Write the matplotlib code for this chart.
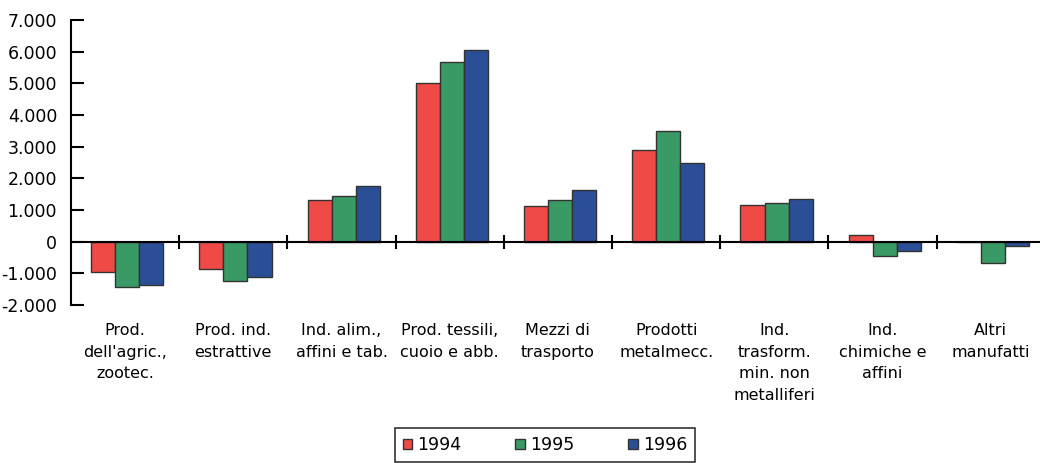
import matplotlib.pyplot as plt
import numpy as np

plt.rcParams['font.family'] = 'DejaVu Sans'

categories = ["Prod.\ndell'agric.,\nzootec.", "Prod. ind.\nestrattive",
              "Ind. alim.,\naffini e tab.", "Prod. tessili,\ncuoio e abb.",
              "Mezzi di\ntrasporto", "Prodotti\nmetalmecc.",
              "Ind.\ntrasform.\nmin. non\nmetalliferi",
              "Ind.\nchimiche e\naffini", "Altri\nmanufatti"]
years = ["1994", "1995", "1996"]
v1994 = [-950, -850, 1320, 5000, 1140, 2880, 1170, 220, 0]
v1995 = [-1420, -1250, 1450, 5670, 1320, 3510, 1230, -460, -660]
v1996 = [-1360, -1110, 1770, 6060, 1640, 2490, 1360, -280, -150]
colors = ["#f04a46", "#3a9a66", "#2a4f96"]

yticks = [-2000, -1000, 0, 1000, 2000, 3000, 4000, 5000, 6000, 7000]
ytick_labels = ["-2.000", "-1.000", "0", "1.000", "2.000", "3.000",
                "4.000", "5.000", "6.000", "7.000"]

fig = plt.figure(figsize=(10.4, 4.63), dpi=100)
ax = fig.add_axes([71 / 1040, 1 - 305 / 463, 1 - 71 / 1040, 285 / 463])

x = np.arange(len(categories))
w = 0.222
for i, (vals, c, lab) in enumerate(zip([v1994, v1995, v1996], colors, years)):
    ax.bar(x + (i - 1) * w + 0.02, vals, width=w, color=c,
           edgecolor="#333333", linewidth=1, label=lab, zorder=2)

ax.set_xlim(-0.5, 8.455)
ax.set_ylim(-2000, 7000)

# asse zero con tacche ai confini delle categorie
ax.axhline(0, color="black", linewidth=1.5, zorder=3)
bounds = x[:-1] + 0.5
ax.plot(bounds, np.zeros(len(bounds)), linestyle="none", marker="|",
        markersize=10, markeredgewidth=1.5, color="black", zorder=3)

for s in ["top", "right", "bottom"]:
    ax.spines[s].set_visible(False)
ax.spines["left"].set_linewidth(1.5)

ax.set_yticks(yticks)
ax.set_yticklabels(ytick_labels, fontsize=12.5)
ax.tick_params(axis="y", direction="in", length=9, width=1.5, pad=10)

ax.set_xticks(x)
ax.set_xticklabels(categories, fontsize=11.5, linespacing=1.55, va="top")
ax.tick_params(axis="x", length=0, pad=13)

leg = fig.legend(loc="lower center", bbox_to_anchor=(0.524, -0.005), ncol=3,
                 fontsize=12.5, frameon=True, fancybox=False, edgecolor="black",
                 handlelength=0.55, handleheight=0.55, handletextpad=0.3,
                 columnspacing=3.1, borderpad=0.45, borderaxespad=0.2)
leg.get_frame().set_linewidth(1.2)

fig.savefig("out.png", dpi=100)
